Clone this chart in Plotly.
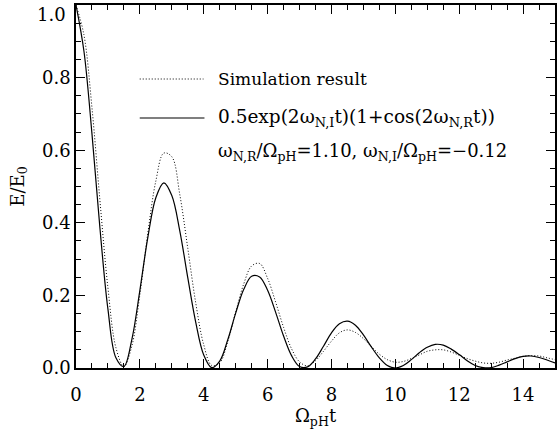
import plotly.graph_objects as go

# time axis (Omega_pH t)
t = [i * 0.25 for i in range(61)]

# simulation result (dotted)
sim = [1.000, 0.917, 0.717, 0.461, 0.221, 0.056, 0.004, 0.061, 0.202, 0.372,
       0.515, 0.592, 0.582, 0.478, 0.330, 0.179, 0.064, 0.007, 0.014, 0.072,
       0.154, 0.231, 0.281, 0.288, 0.247, 0.182, 0.112, 0.053, 0.017, 0.006,
       0.020, 0.046, 0.074, 0.097, 0.105, 0.098, 0.081, 0.059, 0.038, 0.023,
       0.016, 0.018, 0.026, 0.036, 0.046, 0.050, 0.050, 0.044, 0.035, 0.026,
       0.019, 0.014, 0.013, 0.016, 0.022, 0.027, 0.032, 0.034, 0.033, 0.028,
       0.023]

# 0.5exp(2w_I t)(1+cos(2w_R t)) curve (solid)
model = [1.000, 0.872, 0.645, 0.385, 0.162, 0.028, 0.004, 0.079, 0.214, 0.360,
         0.469, 0.510, 0.475, 0.378, 0.249, 0.126, 0.036, 0.001, 0.019, 0.077,
         0.151, 0.216, 0.253, 0.251, 0.214, 0.154, 0.088, 0.034, 0.004, 0.003,
         0.025, 0.060, 0.097, 0.122, 0.129, 0.118, 0.091, 0.058, 0.028, 0.007,
         0.000, 0.007, 0.023, 0.042, 0.057, 0.065, 0.063, 0.052, 0.037, 0.020,
         0.007, 0.001, 0.001, 0.008, 0.017, 0.026, 0.032, 0.033, 0.029, 0.022,
         0.014]

x_ticks = [0, 2, 4, 6, 8, 10, 12, 14]
y_ticks = [0.0, 0.2, 0.4, 0.6, 0.8, 1.0]

FONT = "DejaVu Serif"
FS = 18

fig = go.Figure()
fig.add_trace(go.Scatter(x=t, y=sim, mode="lines", line_shape="spline",
                         line=dict(color="black", width=1, dash="1px,2px"),
                         name="Simulation result"))
fig.add_trace(go.Scatter(x=t, y=model, mode="lines", line_shape="spline",
                         line=dict(color="black", width=1.2),
                         name="model"))

axis_common = dict(showline=True, linecolor="black", linewidth=1.5, mirror="ticks",
                   ticks="inside", ticklen=9, tickwidth=1.3, tickcolor="black",
                   showgrid=False, zeroline=False,
                   tickfont=dict(family=FONT, size=FS, color="black"),
                   minor=dict(ticks="inside", ticklen=5, tickwidth=1.1, tickcolor="black", showgrid=False))

fig.update_xaxes(range=[0, 15], tickvals=x_ticks, ticktext=[str(v) for v in x_ticks],
                 title=dict(text="Ω<sub>pH</sub>t", font=dict(family=FONT, size=FS, color="black"), standoff=0),
                 ticklabelstandoff=10, **axis_common)
fig.update_xaxes(minor_dtick=0.5)
fig.update_yaxes(range=[0, 1], tickvals=y_ticks,
                 ticktext=[f"{v:.1f}" if v < 1 else "" for v in y_ticks],
                 title=dict(text="E/E<sub>0</sub>", font=dict(family=FONT, size=FS, color="black"), standoff=13),
                 ticklabelstandoff=0, **axis_common)
fig.update_yaxes(minor_dtick=0.05)

# top tick label sits just inside the page, as in the reference
fig.add_annotation(text=f"{y_ticks[-1]:.1f}", xref="paper", yref="paper", x=-8/481, y=(368-14)/363,
                   xanchor="right", yanchor="middle", showarrow=False,
                   font=dict(family=FONT, size=FS, color="black"))

# legend-like samples and text
fig.add_shape(type="line", xref="paper", yref="paper", x0=(140-76)/481, x1=(204-76)/481,
              y0=(368-79)/363, y1=(368-79)/363, line=dict(color="black", width=1, dash="1px,2px"))
fig.add_shape(type="line", xref="paper", yref="paper", x0=(140-76)/481, x1=(205-76)/481,
              y0=(368-118)/363, y1=(368-118)/363, line=dict(color="black", width=1.2))

texts = [
    ("Simulation result", 79, 17),
    ("0.5exp(2ω<sub>N,I</sub>t)(1+cos(2ω<sub>N,R</sub>t))", 118, 18.5),
    ("ω<sub>N,R</sub>/Ω<sub>pH</sub>=1.10, ω<sub>N,I</sub>/Ω<sub>pH</sub>=−0.12", 152, 18),
]
for txt, ypix, fs in texts:
    fig.add_annotation(text=txt, xref="paper", yref="paper", x=(217-76)/481, y=(368-ypix)/363,
                       xanchor="left", yanchor="middle", showarrow=False,
                       font=dict(family=FONT, size=fs, color="black"))

fig.update_layout(width=558, height=433, margin=dict(l=76, r=1, t=5, b=65),
                  paper_bgcolor="white", plot_bgcolor="white", showlegend=False)

fig.write_html("out.html")
